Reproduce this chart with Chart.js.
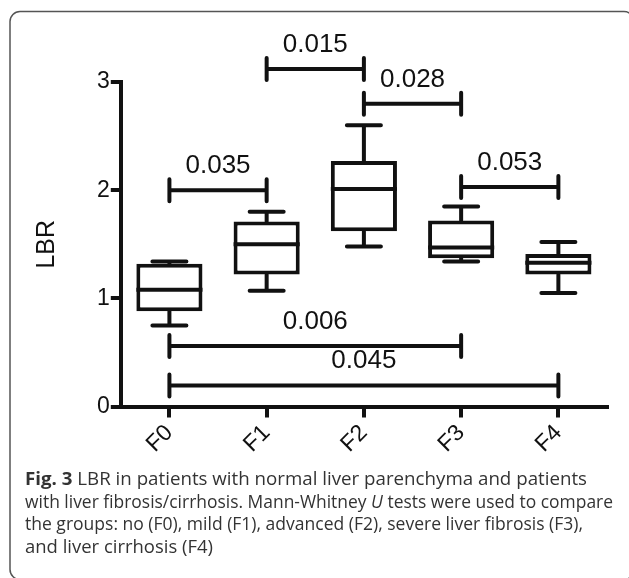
<!DOCTYPE html>
<html>
<head>
<meta charset="utf-8">
<title>LBR box plot</title>
<script src="https://cdn.jsdelivr.net/npm/chart.js@4.4.1/dist/chart.umd.min.js"></script>
<style>
  html, body { margin: 0; padding: 0; background: #fff; }
  #wrap { width: 629px; height: 578px; }
</style>
</head>
<body>
<div id="wrap"><canvas id="chartLBR" width="629" height="578"></canvas></div>
<script>
// grupos e valores
const categories = ['F0', 'F1', 'F2', 'F3', 'F4'];
const whiskerMin = [0.75, 1.07, 1.48, 1.34, 1.05];
const q1         = [0.88, 1.22, 1.62, 1.37, 1.22];
const median     = [1.08, 1.50, 2.01, 1.47, 1.33];
const q3         = [1.32, 1.71, 2.27, 1.72, 1.41];
const whiskerMax = [1.34, 1.80, 2.60, 1.85, 1.52];
const yTicks     = [0, 1, 2, 3];

// comparações (Mann-Whitney U)
const pairFrom = [1, 2, 0, 3, 0, 0];
const pairTo   = [2, 3, 1, 4, 3, 4];
const pairAt   = [3.12, 2.80, 2.00, 2.03, 0.56, 0.195];
const pValues  = ['0.015', '0.028', '0.035', '0.053', '0.006', '0.045'];

const captionLines = [
  [['Fig. 3', 'bold'], [' LBR in patients with normal liver parenchyma and patients', '']],
  [['with liver fibrosis/cirrhosis. Mann-Whitney ', ''], ['U', 'italic'], [' tests were used to compare', '']],
  [['the groups: no (F0), mild (F1), advanced (F2), severe liver fibrosis (F3),', '']],
  [['and liver cirrhosis (F4)', '']]
];
const captionWidths = [562, 588, 558, 188];

const INK = '#111';
const FONT = '"Liberation Sans", Arial, sans-serif';

const boxParts = {
  id: 'boxParts',
  beforeDraw(chart){
    // moldura arredondada (lado direito fica fora da imagem)
    const ctx = chart.ctx;
    ctx.save();
    ctx.strokeStyle = '#555'; ctx.lineWidth = 1.5;
    ctx.beginPath(); ctx.roundRect(10, 11.5, 624, 568, 10); ctx.stroke();
    ctx.restore();
  },
  beforeDatasetsDraw(chart){
    const {ctx, scales:{x, y}} = chart;
    ctx.save();
    ctx.strokeStyle = INK; ctx.lineWidth = 4; ctx.lineCap = 'round';
    categories.forEach((c, i)=>{
      const px = x.getPixelForValue(i);
      const cap = 17;
      ctx.beginPath();
      ctx.moveTo(px, y.getPixelForValue(q3[i])); ctx.lineTo(px, y.getPixelForValue(whiskerMax[i]));
      ctx.moveTo(px, y.getPixelForValue(q1[i])); ctx.lineTo(px, y.getPixelForValue(whiskerMin[i]));
      ctx.moveTo(px - cap, y.getPixelForValue(whiskerMax[i])); ctx.lineTo(px + cap, y.getPixelForValue(whiskerMax[i]));
      ctx.moveTo(px - cap, y.getPixelForValue(whiskerMin[i])); ctx.lineTo(px + cap, y.getPixelForValue(whiskerMin[i]));
      ctx.stroke();
    });
    ctx.restore();
  },
  afterDatasetsDraw(chart){
    const {ctx, scales:{x, y}} = chart;
    const bars = chart.getDatasetMeta(0).data;
    ctx.save();
    ctx.strokeStyle = INK; ctx.lineWidth = 4;
    // medianas
    bars.forEach((b, i)=>{
      const py = y.getPixelForValue(median[i]);
      ctx.beginPath(); ctx.moveTo(b.x - b.width/2, py); ctx.lineTo(b.x + b.width/2, py); ctx.stroke();
    });
    // barras de significância
    ctx.lineCap = 'round';
    ctx.fillStyle = INK;
    ctx.font = '26px ' + FONT;
    ctx.textAlign = 'center'; ctx.textBaseline = 'alphabetic';
    pValues.forEach((p, k)=>{
      const x1 = x.getPixelForValue(pairFrom[k]);
      const x2 = x.getPixelForValue(pairTo[k]);
      const py = y.getPixelForValue(pairAt[k]);
      ctx.beginPath();
      ctx.moveTo(x1, py); ctx.lineTo(x2, py);
      ctx.moveTo(x1, py - 11); ctx.lineTo(x1, py + 11);
      ctx.moveTo(x2, py - 11); ctx.lineTo(x2, py + 11);
      ctx.stroke();
      ctx.fillText(p, (x1 + x2)/2, py - 17);
    });
    ctx.restore();
  },
  afterDraw(chart){
    // legenda da figura
    const ctx = chart.ctx;
    const size = 17.5, left = 25, top = 485, lead = 22.5;
    const fontFor = st => (st === 'bold' ? '700 ' : st === 'italic' ? 'italic ' : '') + size + 'px "Open Sans", sans-serif';
    const widthOf = line => line.reduce((s, [t, st])=>{ ctx.font = fontFor(st); return s + ctx.measureText(t).width; }, 0);
    ctx.save();
    ctx.fillStyle = '#333';
    ctx.textBaseline = 'alphabetic'; ctx.textAlign = 'left';
    captionLines.forEach((line, i)=>{
      const sx = captionWidths[i] / widthOf(line);
      let cx = 0;
      ctx.save();
      ctx.translate(left, top + i*lead);
      ctx.scale(sx, 1);
      line.forEach(([t, st])=>{ ctx.font = fontFor(st); ctx.fillText(t, cx, 0); cx += ctx.measureText(t).width; });
      ctx.restore();
    });
    ctx.restore();
  }
};

new Chart(document.getElementById('chartLBR').getContext('2d'), {
  type: 'bar',
  data: {
    labels: categories,
    datasets: [{
      data: categories.map((c, i)=> [q1[i], q3[i]]),
      backgroundColor: '#fff', borderColor: INK, borderWidth: 4, borderSkipped: false,
      barPercentage: 0.68, categoryPercentage: 1
    }]
  },
  options: {
    responsive: false, animation: false, devicePixelRatio: 1,
    layout: { padding: { top: 82, left: 32, right: 22, bottom: 118 } },
    plugins: { legend: { display: false }, tooltip: { enabled: false } },
    scales: {
      x: {
        offset: true,
        grid: { display: true, offset: false, drawOnChartArea: false, drawTicks: true, tickLength: 11, lineWidth: 4, color: INK },
        border: { display: true, width: 4, color: INK },
        ticks: { color: INK, font: { family: FONT, size: 23 }, maxRotation: 45, minRotation: 45, padding: 2 }
      },
      y: {
        min: 0, max: 3,
        afterBuildTicks: s => { s.ticks = yTicks.map(v => ({ value: v })); },
        grid: { display: true, drawOnChartArea: false, drawTicks: true, tickLength: 10, lineWidth: 4, color: INK },
        border: { display: true, width: 4, color: INK },
        ticks: { color: INK, font: { family: FONT, size: 23 }, padding: 1 },
        title: { display: true, text: 'LBR', color: INK, font: { family: FONT, size: 25 }, padding: { top: 0, bottom: 34 } }
      }
    }
  },
  plugins: [boxParts]
});
</script>
</body>
</html>
